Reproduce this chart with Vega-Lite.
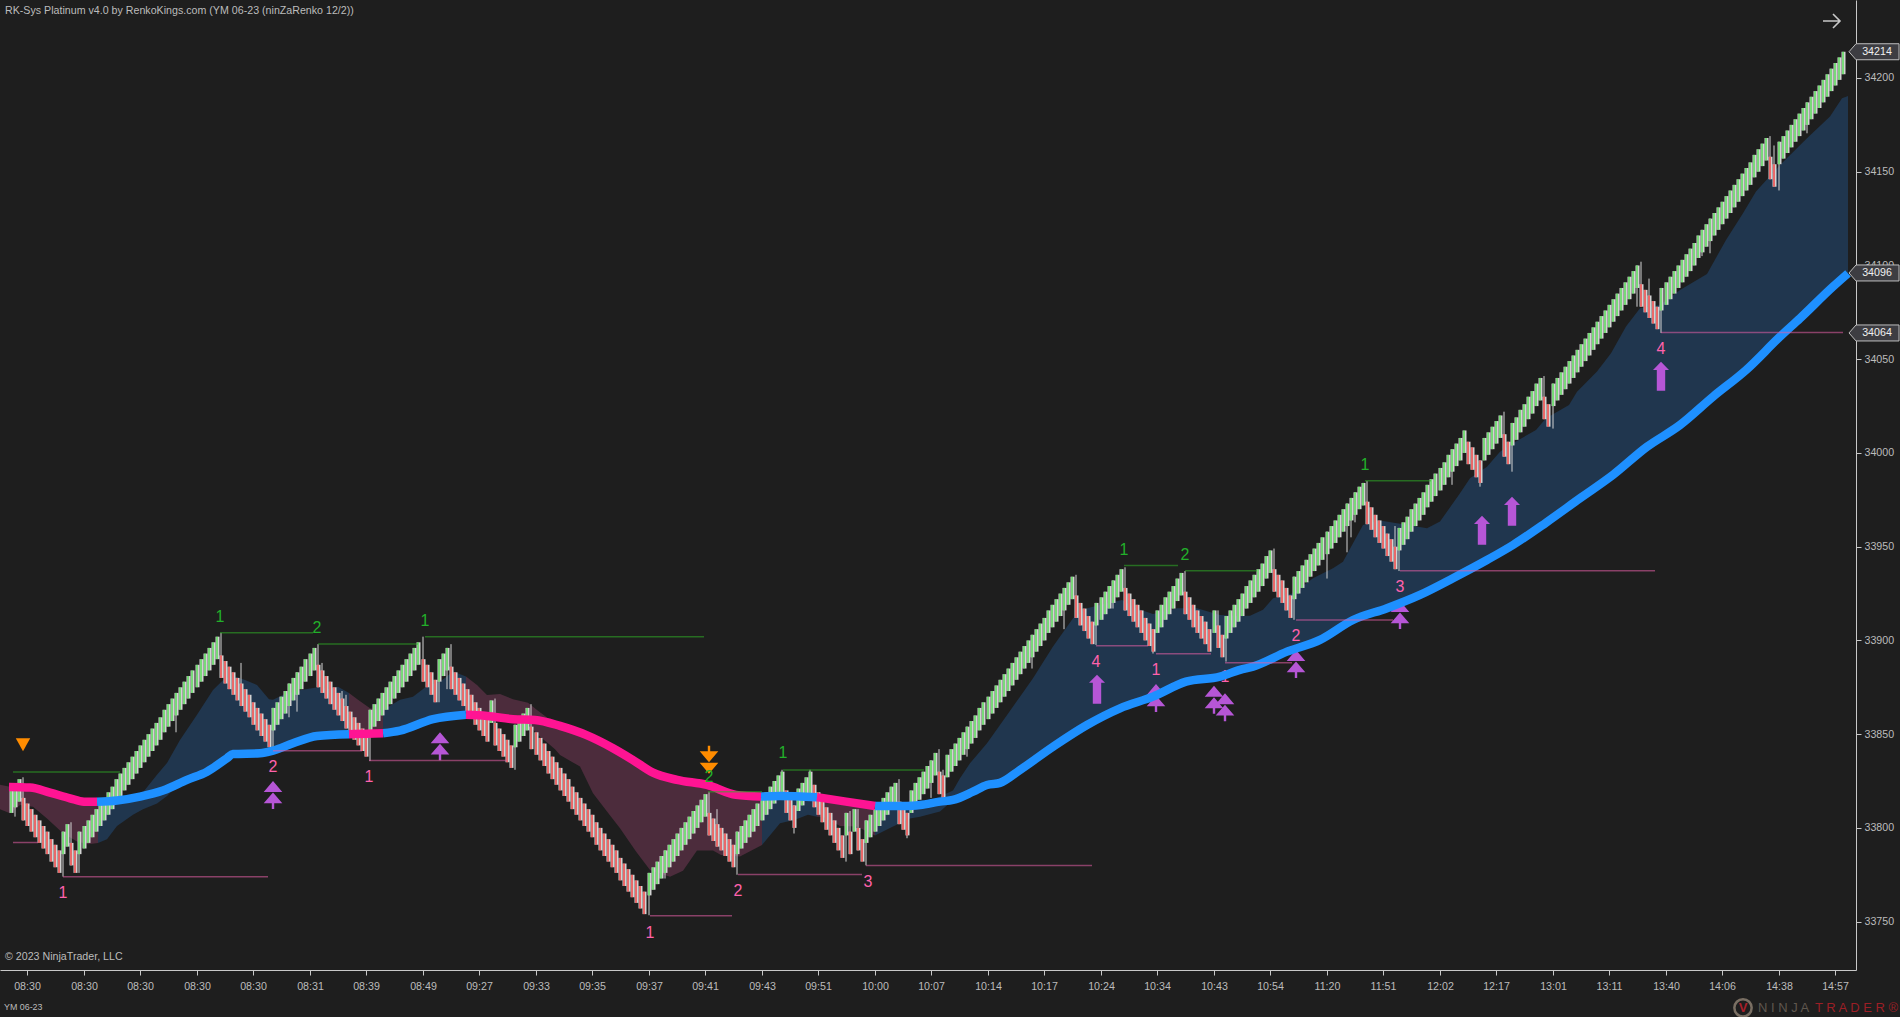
{"$schema":"https://vega.github.io/schema/vega-lite/v6.json","width":1856,"height":970,"autosize":{"type":"none"},"padding":{"left":0,"top":0,"right":44,"bottom":47},"background":"#1e1e1e","config":{"view":{"stroke":null},"text":{"font":"Liberation Sans"}},
"datasets":{
"bars":[{"i":2,"o":33808,"c":33820},{"i":3,"o":33811,"c":33823},{"i":4,"o":33814,"c":33826},{"i":5,"o":33816,"c":33804},{"i":6,"o":33813,"c":33801},{"i":7,"o":33810,"c":33798},{"i":8,"o":33807,"c":33795},{"i":9,"o":33804,"c":33792},{"i":10,"o":33801,"c":33789},{"i":11,"o":33798,"c":33786},{"i":12,"o":33794,"c":33782},{"i":13,"o":33791,"c":33779},{"i":14,"o":33788,"c":33776},{"i":15,"o":33786,"c":33798},{"i":16,"o":33790,"c":33802},{"i":17,"o":33792,"c":33780},{"i":18,"o":33788,"c":33776},
{"i":19,"o":33786,"c":33798},{"i":20,"o":33789,"c":33801},{"i":21,"o":33792,"c":33804},{"i":22,"o":33795,"c":33807},{"i":23,"o":33798,"c":33810},{"i":24,"o":33801,"c":33813},{"i":25,"o":33804,"c":33816},{"i":26,"o":33807,"c":33819},{"i":27,"o":33810,"c":33822},{"i":28,"o":33814,"c":33826},{"i":29,"o":33817,"c":33829},{"i":30,"o":33820,"c":33832},{"i":31,"o":33823,"c":33835},{"i":32,"o":33826,"c":33838},{"i":33,"o":33829,"c":33841},{"i":34,"o":33832,"c":33844},{"i":35,"o":33835,"c":33847},{"i":36,"o":33838,"c":33850},{"i":37,"o":33841,"c":33853},{"i":38,"o":33844,"c":33856},{"i":39,"o":33847,"c":33859},{"i":40,"o":33851,"c":33863},{"i":41,"o":33854,"c":33866},{"i":42,"o":33857,"c":33869},{"i":43,"o":33860,"c":33872},{"i":44,"o":33863,"c":33875},{"i":45,"o":33866,"c":33878},{"i":46,"o":33869,"c":33881},{"i":47,"o":33872,"c":33884},{"i":48,"o":33875,"c":33887},{"i":49,"o":33878,"c":33890},{"i":50,"o":33881,"c":33893},{"i":51,"o":33884,"c":33896},{"i":52,"o":33887,"c":33899},{"i":53,"o":33890,"c":33902},
{"i":54,"o":33892,"c":33880},{"i":55,"o":33889,"c":33877},{"i":56,"o":33886,"c":33874},{"i":57,"o":33883,"c":33871},{"i":58,"o":33880,"c":33868},{"i":59,"o":33877,"c":33865},{"i":60,"o":33874,"c":33862},{"i":61,"o":33871,"c":33859},{"i":62,"o":33867,"c":33855},{"i":63,"o":33864,"c":33852},{"i":64,"o":33861,"c":33849},{"i":65,"o":33858,"c":33846},{"i":66,"o":33855,"c":33843},
{"i":67,"o":33852,"c":33864},{"i":68,"o":33855,"c":33867},{"i":69,"o":33858,"c":33870},{"i":70,"o":33861,"c":33873},{"i":71,"o":33865,"c":33877},{"i":72,"o":33868,"c":33880},{"i":73,"o":33871,"c":33883},{"i":74,"o":33874,"c":33886},{"i":75,"o":33878,"c":33890},{"i":76,"o":33881,"c":33893},{"i":77,"o":33884,"c":33896},
{"i":78,"o":33887,"c":33875},{"i":79,"o":33884,"c":33872},{"i":80,"o":33881,"c":33869},{"i":81,"o":33878,"c":33866},{"i":82,"o":33875,"c":33863},{"i":83,"o":33872,"c":33860},{"i":84,"o":33869,"c":33857},{"i":85,"o":33865,"c":33853},{"i":86,"o":33862,"c":33850},{"i":87,"o":33859,"c":33847},{"i":88,"o":33856,"c":33844},{"i":89,"o":33853,"c":33841},{"i":90,"o":33850,"c":33838},
{"i":91,"o":33851,"c":33863},{"i":92,"o":33854,"c":33866},{"i":93,"o":33857,"c":33869},{"i":94,"o":33860,"c":33872},{"i":95,"o":33863,"c":33875},{"i":96,"o":33866,"c":33878},{"i":97,"o":33869,"c":33881},{"i":98,"o":33872,"c":33884},{"i":99,"o":33875,"c":33887},{"i":100,"o":33878,"c":33890},{"i":101,"o":33881,"c":33893},{"i":102,"o":33884,"c":33896},{"i":103,"o":33887,"c":33899},
{"i":104,"o":33890,"c":33878},{"i":105,"o":33887,"c":33875},{"i":106,"o":33883,"c":33871},{"i":107,"o":33879,"c":33867},{"i":108,"o":33878,"c":33890},{"i":109,"o":33881,"c":33893},{"i":110,"o":33884,"c":33896},
{"i":111,"o":33886,"c":33874},{"i":112,"o":33883,"c":33871},{"i":113,"o":33880,"c":33868},{"i":114,"o":33877,"c":33865},{"i":115,"o":33874,"c":33862},{"i":116,"o":33871,"c":33859},{"i":117,"o":33867,"c":33855},{"i":118,"o":33864,"c":33852},{"i":119,"o":33861,"c":33849},{"i":120,"o":33858,"c":33846},{"i":121,"o":33856,"c":33868},{"i":122,"o":33856,"c":33844},{"i":123,"o":33853,"c":33841},{"i":124,"o":33850,"c":33838},{"i":125,"o":33847,"c":33835},{"i":126,"o":33844,"c":33832},{"i":127,"o":33843,"c":33855},{"i":128,"o":33846,"c":33858},{"i":129,"o":33849,"c":33861},{"i":130,"o":33852,"c":33864},
{"i":131,"o":33854,"c":33842},{"i":132,"o":33851,"c":33839},{"i":133,"o":33848,"c":33836},{"i":134,"o":33845,"c":33833},{"i":135,"o":33841,"c":33829},{"i":136,"o":33838,"c":33826},{"i":137,"o":33835,"c":33823},{"i":138,"o":33832,"c":33820},{"i":139,"o":33829,"c":33817},{"i":140,"o":33826,"c":33814},{"i":141,"o":33822,"c":33810},{"i":142,"o":33819,"c":33807},{"i":143,"o":33816,"c":33804},{"i":144,"o":33813,"c":33801},{"i":145,"o":33810,"c":33798},{"i":146,"o":33807,"c":33795},{"i":147,"o":33803,"c":33791},{"i":148,"o":33800,"c":33788},{"i":149,"o":33797,"c":33785},{"i":150,"o":33794,"c":33782},{"i":151,"o":33791,"c":33779},{"i":152,"o":33788,"c":33776},{"i":153,"o":33784,"c":33772},{"i":154,"o":33781,"c":33769},{"i":155,"o":33778,"c":33766},{"i":156,"o":33775,"c":33763},{"i":157,"o":33772,"c":33760},{"i":158,"o":33769,"c":33757},{"i":159,"o":33766,"c":33754},
{"i":160,"o":33764,"c":33776},{"i":161,"o":33767,"c":33779},{"i":162,"o":33770,"c":33782},{"i":163,"o":33773,"c":33785},{"i":164,"o":33776,"c":33788},{"i":165,"o":33779,"c":33791},{"i":166,"o":33782,"c":33794},{"i":167,"o":33785,"c":33797},{"i":168,"o":33788,"c":33800},{"i":169,"o":33791,"c":33803},{"i":170,"o":33794,"c":33806},{"i":171,"o":33797,"c":33809},{"i":172,"o":33800,"c":33812},{"i":173,"o":33803,"c":33815},{"i":174,"o":33806,"c":33818},
{"i":175,"o":33808,"c":33796},{"i":176,"o":33805,"c":33793},{"i":177,"o":33802,"c":33790},{"i":178,"o":33800,"c":33788},{"i":179,"o":33797,"c":33785},{"i":180,"o":33794,"c":33782},{"i":181,"o":33791,"c":33779},
{"i":182,"o":33786,"c":33798},{"i":183,"o":33789,"c":33801},{"i":184,"o":33792,"c":33804},{"i":185,"o":33795,"c":33807},{"i":186,"o":33798,"c":33810},{"i":187,"o":33801,"c":33813},{"i":188,"o":33804,"c":33816},{"i":189,"o":33807,"c":33819},{"i":190,"o":33810,"c":33822},{"i":191,"o":33813,"c":33825},{"i":192,"o":33816,"c":33828},{"i":193,"o":33818,"c":33830},
{"i":194,"o":33820,"c":33808},{"i":195,"o":33816,"c":33804},{"i":196,"o":33812,"c":33800},{"i":197,"o":33809,"c":33821},{"i":198,"o":33812,"c":33824},{"i":199,"o":33815,"c":33827},{"i":200,"o":33818,"c":33830},
{"i":201,"o":33823,"c":33811},{"i":202,"o":33819,"c":33807},{"i":203,"o":33815,"c":33803},{"i":204,"o":33811,"c":33799},{"i":205,"o":33808,"c":33796},{"i":206,"o":33804,"c":33792},{"i":207,"o":33800,"c":33788},{"i":208,"o":33796,"c":33784},{"i":209,"o":33796,"c":33808},{"i":210,"o":33798,"c":33786},{"i":211,"o":33798,"c":33810},{"i":212,"o":33800,"c":33788},{"i":213,"o":33794,"c":33782},
{"i":214,"o":33792,"c":33804},{"i":215,"o":33795,"c":33807},{"i":216,"o":33798,"c":33810},{"i":217,"o":33801,"c":33813},{"i":218,"o":33804,"c":33816},{"i":219,"o":33807,"c":33819},{"i":220,"o":33810,"c":33822},{"i":221,"o":33812,"c":33824},{"i":222,"o":33814,"c":33802},{"i":223,"o":33811,"c":33799},{"i":224,"o":33808,"c":33796},
{"i":225,"o":33808,"c":33820},{"i":226,"o":33812,"c":33824},{"i":227,"o":33815,"c":33827},{"i":228,"o":33818,"c":33830},{"i":229,"o":33821,"c":33833},{"i":230,"o":33824,"c":33836},{"i":231,"o":33828,"c":33840},{"i":232,"o":33830,"c":33818},{"i":233,"o":33828,"c":33816},
{"i":234,"o":33827,"c":33839},{"i":235,"o":33830,"c":33842},{"i":236,"o":33833,"c":33845},{"i":237,"o":33836,"c":33848},{"i":238,"o":33839,"c":33851},{"i":239,"o":33842,"c":33854},{"i":240,"o":33845,"c":33857},{"i":241,"o":33848,"c":33860},{"i":242,"o":33852,"c":33864},{"i":243,"o":33855,"c":33867},{"i":244,"o":33858,"c":33870},{"i":245,"o":33861,"c":33873},{"i":246,"o":33864,"c":33876},{"i":247,"o":33867,"c":33879},{"i":248,"o":33870,"c":33882},{"i":249,"o":33873,"c":33885},{"i":250,"o":33876,"c":33888},{"i":251,"o":33879,"c":33891},{"i":252,"o":33882,"c":33894},{"i":253,"o":33885,"c":33897},{"i":254,"o":33888,"c":33900},{"i":255,"o":33891,"c":33903},{"i":256,"o":33894,"c":33906},{"i":257,"o":33897,"c":33909},{"i":258,"o":33900,"c":33912},{"i":259,"o":33904,"c":33916},{"i":260,"o":33907,"c":33919},{"i":261,"o":33910,"c":33922},{"i":262,"o":33913,"c":33925},{"i":263,"o":33916,"c":33928},{"i":264,"o":33919,"c":33931},{"i":265,"o":33922,"c":33934},
{"i":266,"o":33924,"c":33912},{"i":267,"o":33920,"c":33908},{"i":268,"o":33917,"c":33905},{"i":269,"o":33913,"c":33901},{"i":270,"o":33910,"c":33898},
{"i":271,"o":33908,"c":33920},{"i":272,"o":33911,"c":33923},{"i":273,"o":33914,"c":33926},{"i":274,"o":33917,"c":33929},{"i":275,"o":33920,"c":33932},{"i":276,"o":33923,"c":33935},{"i":277,"o":33926,"c":33938},
{"i":278,"o":33928,"c":33916},{"i":279,"o":33925,"c":33913},{"i":280,"o":33922,"c":33910},{"i":281,"o":33919,"c":33907},{"i":282,"o":33916,"c":33904},{"i":283,"o":33912,"c":33900},{"i":284,"o":33909,"c":33897},{"i":285,"o":33906,"c":33894},
{"i":286,"o":33904,"c":33916},{"i":287,"o":33907,"c":33919},{"i":288,"o":33911,"c":33923},{"i":289,"o":33914,"c":33926},{"i":290,"o":33917,"c":33929},{"i":291,"o":33921,"c":33933},{"i":292,"o":33924,"c":33936},
{"i":293,"o":33926,"c":33914},{"i":294,"o":33923,"c":33911},{"i":295,"o":33919,"c":33907},{"i":296,"o":33916,"c":33904},{"i":297,"o":33913,"c":33901},{"i":298,"o":33910,"c":33898},{"i":299,"o":33906,"c":33894},{"i":300,"o":33904,"c":33916},{"i":301,"o":33908,"c":33896},{"i":302,"o":33903,"c":33891},
{"i":303,"o":33901,"c":33913},{"i":304,"o":33904,"c":33916},{"i":305,"o":33907,"c":33919},{"i":306,"o":33910,"c":33922},{"i":307,"o":33913,"c":33925},{"i":308,"o":33917,"c":33929},{"i":309,"o":33920,"c":33932},{"i":310,"o":33923,"c":33935},{"i":311,"o":33926,"c":33938},{"i":312,"o":33929,"c":33941},{"i":313,"o":33933,"c":33945},{"i":314,"o":33936,"c":33948},
{"i":315,"o":33938,"c":33926},{"i":316,"o":33935,"c":33923},{"i":317,"o":33932,"c":33920},{"i":318,"o":33928,"c":33916},{"i":319,"o":33924,"c":33912},
{"i":320,"o":33922,"c":33934},{"i":321,"o":33925,"c":33937},{"i":322,"o":33928,"c":33940},{"i":323,"o":33931,"c":33943},{"i":324,"o":33934,"c":33946},{"i":325,"o":33937,"c":33949},{"i":326,"o":33940,"c":33952},{"i":327,"o":33943,"c":33955},{"i":328,"o":33946,"c":33958},{"i":329,"o":33949,"c":33961},{"i":330,"o":33952,"c":33964},{"i":331,"o":33955,"c":33967},{"i":332,"o":33958,"c":33970},{"i":333,"o":33961,"c":33973},{"i":334,"o":33964,"c":33976},{"i":335,"o":33967,"c":33979},{"i":336,"o":33970,"c":33982},{"i":337,"o":33972,"c":33984},
{"i":338,"o":33974,"c":33962},{"i":339,"o":33971,"c":33959},{"i":340,"o":33967,"c":33955},{"i":341,"o":33964,"c":33952},{"i":342,"o":33961,"c":33949},{"i":343,"o":33957,"c":33945},{"i":344,"o":33954,"c":33942},{"i":345,"o":33950,"c":33938},
{"i":346,"o":33948,"c":33960},{"i":347,"o":33951,"c":33963},{"i":348,"o":33954,"c":33966},{"i":349,"o":33958,"c":33970},{"i":350,"o":33961,"c":33973},{"i":351,"o":33964,"c":33976},{"i":352,"o":33967,"c":33979},{"i":353,"o":33971,"c":33983},{"i":354,"o":33974,"c":33986},{"i":355,"o":33977,"c":33989},{"i":356,"o":33980,"c":33992},{"i":357,"o":33983,"c":33995},{"i":358,"o":33987,"c":33999},{"i":359,"o":33990,"c":34002},{"i":360,"o":33993,"c":34005},{"i":361,"o":33996,"c":34008},{"i":362,"o":34000,"c":34012},
{"i":363,"o":34006,"c":33994},{"i":364,"o":34003,"c":33991},{"i":365,"o":33999,"c":33987},{"i":366,"o":33996,"c":33984},
{"i":367,"o":33996,"c":34008},{"i":368,"o":33999,"c":34011},{"i":369,"o":34002,"c":34014},{"i":370,"o":34005,"c":34017},{"i":371,"o":34008,"c":34020},{"i":372,"o":34010,"c":33998},{"i":373,"o":34006,"c":33994},
{"i":374,"o":34004,"c":34016},{"i":375,"o":34007,"c":34019},{"i":376,"o":34011,"c":34023},{"i":377,"o":34014,"c":34026},{"i":378,"o":34018,"c":34030},{"i":379,"o":34021,"c":34033},{"i":380,"o":34025,"c":34037},{"i":381,"o":34028,"c":34040},{"i":382,"o":34030,"c":34018},{"i":383,"o":34026,"c":34014},
{"i":384,"o":34025,"c":34037},{"i":385,"o":34028,"c":34040},{"i":386,"o":34031,"c":34043},{"i":387,"o":34034,"c":34046},{"i":388,"o":34037,"c":34049},{"i":389,"o":34040,"c":34052},{"i":390,"o":34043,"c":34055},{"i":391,"o":34046,"c":34058},{"i":392,"o":34049,"c":34061},{"i":393,"o":34052,"c":34064},{"i":394,"o":34055,"c":34067},{"i":395,"o":34058,"c":34070},{"i":396,"o":34061,"c":34073},{"i":397,"o":34064,"c":34076},{"i":398,"o":34067,"c":34079},{"i":399,"o":34070,"c":34082},{"i":400,"o":34073,"c":34085},{"i":401,"o":34076,"c":34088},{"i":402,"o":34079,"c":34091},{"i":403,"o":34082,"c":34094},{"i":404,"o":34085,"c":34097},{"i":405,"o":34088,"c":34100},
{"i":406,"o":34090,"c":34078},{"i":407,"o":34087,"c":34075},{"i":408,"o":34084,"c":34072},{"i":409,"o":34081,"c":34069},{"i":410,"o":34078,"c":34066},
{"i":411,"o":34076,"c":34088},{"i":412,"o":34079,"c":34091},{"i":413,"o":34082,"c":34094},{"i":414,"o":34085,"c":34097},{"i":415,"o":34088,"c":34100},{"i":416,"o":34091,"c":34103},{"i":417,"o":34094,"c":34106},{"i":418,"o":34097,"c":34109},{"i":419,"o":34100,"c":34112},{"i":420,"o":34104,"c":34116},{"i":421,"o":34107,"c":34119},{"i":422,"o":34110,"c":34122},{"i":423,"o":34113,"c":34125},{"i":424,"o":34116,"c":34128},{"i":425,"o":34119,"c":34131},{"i":426,"o":34122,"c":34134},{"i":427,"o":34125,"c":34137},{"i":428,"o":34128,"c":34140},{"i":429,"o":34131,"c":34143},{"i":430,"o":34134,"c":34146},{"i":431,"o":34137,"c":34149},{"i":432,"o":34140,"c":34152},{"i":433,"o":34143,"c":34155},{"i":434,"o":34147,"c":34159},{"i":435,"o":34150,"c":34162},{"i":436,"o":34153,"c":34165},{"i":437,"o":34156,"c":34168},
{"i":438,"o":34158,"c":34146},{"i":439,"o":34154,"c":34142},
{"i":440,"o":34154,"c":34166},{"i":441,"o":34157,"c":34169},{"i":442,"o":34160,"c":34172},{"i":443,"o":34163,"c":34175},{"i":444,"o":34166,"c":34178},{"i":445,"o":34169,"c":34181},{"i":446,"o":34172,"c":34184},{"i":447,"o":34175,"c":34187},{"i":448,"o":34178,"c":34190},{"i":449,"o":34181,"c":34193},{"i":450,"o":34184,"c":34196},{"i":451,"o":34187,"c":34199},{"i":452,"o":34190,"c":34202},{"i":453,"o":34193,"c":34205},{"i":454,"o":34196,"c":34208},{"i":455,"o":34199,"c":34211},{"i":456,"o":34202,"c":34214}],
"wicks":[{"i":3,"h":33823,"l":33806},{"i":5,"h":33827,"l":33804},{"i":15,"h":33798,"l":33774},{"i":17,"h":33803,"l":33780},{"i":19,"h":33798,"l":33776},{"i":43,"h":33872,"l":33851},{"i":54,"h":33904,"l":33880},{"i":59,"h":33888,"l":33865},{"i":67,"h":33864,"l":33842.6},{"i":71,"h":33877,"l":33859},{"i":73,"h":33883,"l":33862},{"i":78,"h":33898,"l":33875},{"i":79,"h":33888,"l":33872},{"i":84,"h":33873,"l":33860},{"i":85,"h":33871,"l":33857},{"i":91,"h":33863,"l":33835.7},{"i":104,"h":33902,"l":33878},{"i":108,"h":33890,"l":33867},{"i":110,"h":33896,"l":33874},{"i":111,"h":33898,"l":33874},{"i":122,"h":33869,"l":33844},{"i":127,"h":33855,"l":33831},{"i":131,"h":33866,"l":33842},{"i":160,"h":33776,"l":33753.4},{"i":164,"h":33788,"l":33773},{"i":175,"h":33819,"l":33796},{"i":177,"h":33810,"l":33790},{"i":182,"h":33798,"l":33775},{"i":193,"h":33831,"l":33825},{"i":196,"h":33812,"l":33797},{"i":200,"h":33831,"l":33818},{"i":209,"h":33808,"l":33782},{"i":210,"h":33809,"l":33786},{"i":212,"h":33810,"l":33788},{"i":214,"h":33804,"l":33780},{"i":222,"h":33826,"l":33802},{"i":224,"h":33808,"l":33794.5},{"i":230,"h":33836,"l":33816},{"i":232,"h":33842,"l":33818},{"i":233,"h":33831,"l":33816},{"i":239,"h":33854,"l":33838},{"i":255,"h":33903,"l":33885},{"i":263,"h":33928,"l":33906},{"i":266,"h":33935,"l":33912},{"i":271,"h":33920,"l":33897.6},{"i":275,"h":33932,"l":33917},{"i":278,"h":33939,"l":33916},{"i":285,"h":33906,"l":33893},{"i":293,"h":33937,"l":33914},{"i":301,"h":33916,"l":33896},{"i":303,"h":33913,"l":33888.7},{"i":315,"h":33949,"l":33926},{"i":320,"h":33934,"l":33911},{"i":328,"h":33958,"l":33933},{"i":333,"h":33973,"l":33947},{"i":334,"h":33976,"l":33955},{"i":335,"h":33979,"l":33963},{"i":338,"h":33985,"l":33962},{"i":345,"h":33961,"l":33938},{"i":346,"h":33960,"l":33937},{"i":359,"h":34002,"l":33983},{"i":366,"h":33996,"l":33982},{"i":372,"h":34022,"l":33998},{"i":374,"h":34016,"l":33990},{"i":382,"h":34041,"l":34018},{"i":384,"h":34037,"l":34013},{"i":405,"h":34100,"l":34078},{"i":406,"h":34102,"l":34078},{"i":408,"h":34093,"l":34072},{"i":411,"h":34088,"l":34064},{"i":421,"h":34119,"l":34105},{"i":423,"h":34125,"l":34106.5},{"i":438,"h":34169,"l":34146},{"i":439,"h":34164,"l":34142},{"i":440,"h":34166,"l":34140},{"i":447,"h":34187,"l":34170.5}],
"emaPink":[{"s":"A","i":1.5,"p":33821.8},{"s":"A","i":6.7,"p":33821.5},{"s":"A","i":11.7,"p":33818.8},{"s":"A","i":16.6,"p":33815.8},{"s":"A","i":20,"p":33814},{"s":"A","i":23.3,"p":33813.9},{"s":"C","i":85.9,"p":33850},{"s":"C","i":90,"p":33850.2},{"s":"C","i":94.2,"p":33850.5},{"s":"E","i":114.7,"p":33860.3},{"s":"E","i":119.9,"p":33859.7},{"s":"E","i":126.4,"p":33858},{"s":"E","i":131.9,"p":33857.6},{"s":"E","i":138,"p":33854.4},{"s":"E","i":144.6,"p":33849.6},{"s":"E","i":151.3,"p":33842.5},{"s":"E","i":156.2,"p":33836.2},{"s":"E","i":161.2,"p":33829.5},{"s":"E","i":167,"p":33825.6},{"s":"E","i":174.4,"p":33822.9},{"s":"E","i":181.8,"p":33817.6},{"s":"E","i":187.9,"p":33816.7},{"s":"G","i":201.7,"p":33816.4},{"s":"G","i":209,"p":33814},{"s":"G","i":216,"p":33811.7}],
"emaBlue":[{"s":"B","i":23.3,"p":33813.9},{"s":"B","i":28.2,"p":33814.6},{"s":"B","i":34,"p":33816.7},{"s":"B","i":39.8,"p":33819.9},{"s":"B","i":45.6,"p":33825.6},{"s":"B","i":50.5,"p":33830},{"s":"B","i":55.5,"p":33837.2},{"s":"B","i":57,"p":33839.4},{"s":"B","i":63.7,"p":33839.8},{"s":"B","i":67,"p":33841.2},{"s":"B","i":72,"p":33845.1},{"s":"B","i":77.8,"p":33849},{"s":"B","i":85.9,"p":33850},{"s":"D","i":94.2,"p":33850.5},{"s":"D","i":98.4,"p":33851.9},{"s":"D","i":106.7,"p":33858},{"s":"D","i":114.7,"p":33860.3},{"s":"F","i":187.9,"p":33816.7},{"s":"F","i":192.5,"p":33817},{"s":"F","i":201.7,"p":33816.4},{"s":"H","i":216,"p":33811.7},{"s":"H","i":224,"p":33811.7},{"s":"H","i":227.2,"p":33812.2},{"s":"H","i":232.2,"p":33814},{"s":"H","i":235.5,"p":33814.9},{"s":"H","i":240.4,"p":33819.3},{"s":"H","i":243.8,"p":33822.9},{"s":"H","i":247,"p":33824},{"s":"H","i":252,"p":33830.9},{"s":"H","i":260.3,"p":33843.3},{"s":"H","i":268.6,"p":33854.9},{"s":"H","i":276.8,"p":33863.8},{"s":"H","i":285,"p":33870},{"s":"H","i":293.3,"p":33878},{"s":"H","i":301.6,"p":33880.7},{"s":"H","i":306.5,"p":33884.3},{"s":"H","i":309.8,"p":33886},{"s":"H","i":318.1,"p":33894},{"s":"H","i":326.4,"p":33900.3},{"s":"H","i":334.6,"p":33910.9},{"s":"H","i":342.9,"p":33917.2},{"s":"H","i":351.1,"p":33924.3},{"s":"H","i":359.4,"p":33933.2},{"s":"H","i":367.7,"p":33942.9},{"s":"H","i":374.3,"p":33950.9},{"s":"H","i":382.5,"p":33962.8},{"s":"H","i":390.8,"p":33975.8},{"s":"H","i":399,"p":33988.3},{"s":"H","i":407.3,"p":34003.3},{"s":"H","i":415.6,"p":34014.9},{"s":"H","i":423.8,"p":34030},{"s":"H","i":432,"p":34044.2},{"s":"H","i":440.3,"p":34062},{"s":"H","i":445.3,"p":34071.8},{"s":"H","i":453.5,"p":34088.7},{"s":"H","i":457.2,"p":34095.8}],
"cloudPink":[{"s":"A","i":-0.69,"t":33823,"b":33810},{"s":"A","i":1.8,"t":33822,"b":33807.8},{"s":"A","i":4.3,"t":33822,"b":33812.2},{"s":"A","i":7.5,"t":33821.5,"b":33811.3},{"s":"A","i":10.9,"t":33819.5,"b":33805},{"s":"A","i":15,"t":33816.5,"b":33797.1},{"s":"A","i":18.3,"t":33815,"b":33792.7},{"s":"A","i":21.1,"t":33814,"b":33791.3},{"s":"A","i":23.5,"t":33814,"b":33792},{"s":"C","i":85.9,"t":33872,"b":33850},{"s":"C","i":88,"t":33868.3,"b":33850},{"s":"C","i":91,"t":33863.8,"b":33850.2},{"s":"C","i":94.2,"t":33862.9,"b":33850.5},{"s":"E","i":114.7,"t":33880.7,"b":33860.3},{"s":"E","i":117.4,"t":33876.2,"b":33860},{"s":"E","i":120,"t":33870.9,"b":33859.7},{"s":"E","i":123.2,"t":33871.4,"b":33859},{"s":"E","i":126.5,"t":33868.6,"b":33858},{"s":"E","i":130.2,"t":33866.8,"b":33856},{"s":"E","i":132.3,"t":33862.9,"b":33850},{"s":"E","i":135.2,"t":33858.5,"b":33845.2},{"s":"E","i":136.8,"t":33855.5,"b":33842},{"s":"E","i":138,"t":33854.4,"b":33838.9},{"s":"E","i":143,"t":33851,"b":33832.7},{"s":"E","i":146.3,"t":33848.5,"b":33818.5},{"s":"E","i":149.6,"t":33846,"b":33808.7},{"s":"E","i":152.9,"t":33841.5,"b":33799.8},{"s":"E","i":157,"t":33836,"b":33787.4},{"s":"E","i":160.4,"t":33831,"b":33777.6},{"s":"E","i":165.3,"t":33827,"b":33774},{"s":"E","i":168.6,"t":33824.5,"b":33777.2},{"s":"E","i":171.9,"t":33823.5,"b":33787.9},{"s":"E","i":176,"t":33822,"b":33787.9},{"s":"E","i":178,"t":33820,"b":33785.6},{"s":"E","i":182.6,"t":33817.4,"b":33784.7},{"s":"E","i":188,"t":33816.7,"b":33790.9},{"s":"G","i":201.7,"t":33816.4,"b":33806},{"s":"G","i":203.3,"t":33815.8,"b":33806},{"s":"G","i":207.4,"t":33814.6,"b":33801},{"s":"G","i":211.6,"t":33813.4,"b":33800.7},{"s":"G","i":216,"t":33811.7,"b":33796}],
"cloudBlue":[{"s":"B","i":23.5,"t":33814,"b":33792},{"s":"B","i":25.7,"t":33814.3,"b":33794},{"s":"B","i":28.2,"t":33814.6,"b":33801},{"s":"B","i":32.3,"t":33816,"b":33807},{"s":"B","i":34.8,"t":33819,"b":33810},{"s":"B","i":38.1,"t":33828.3,"b":33813},{"s":"B","i":40.6,"t":33834.6,"b":33817},{"s":"B","i":44,"t":33846.9,"b":33824},{"s":"B","i":48,"t":33860.3,"b":33829},{"s":"B","i":52,"t":33873.6,"b":33834},{"s":"B","i":55,"t":33879.8,"b":33837},{"s":"B","i":57,"t":33881,"b":33839},{"s":"B","i":60,"t":33878.9,"b":33839.6},{"s":"B","i":63,"t":33876.2,"b":33840},{"s":"B","i":66,"t":33868.6,"b":33841},{"s":"B","i":67,"t":33868.3,"b":33841.2},{"s":"B","i":70,"t":33871.4,"b":33843.5},{"s":"B","i":74,"t":33873.6,"b":33846.5},{"s":"B","i":78,"t":33875,"b":33849},{"s":"B","i":81,"t":33874,"b":33849.5},{"s":"B","i":83,"t":33875.3,"b":33850},{"s":"B","i":85.9,"t":33872,"b":33850},{"s":"D","i":94.2,"t":33862.9,"b":33850.5},{"s":"D","i":98.4,"t":33868.3,"b":33851.9},{"s":"D","i":101.7,"t":33870,"b":33854},{"s":"D","i":105,"t":33875.7,"b":33857},{"s":"D","i":108.3,"t":33878,"b":33858.5},{"s":"D","i":111.6,"t":33883.4,"b":33859.5},{"s":"D","i":114.7,"t":33880.7,"b":33860.3},{"s":"F","i":188,"t":33816.7,"b":33790.9},{"s":"F","i":192.6,"t":33817,"b":33802.5},{"s":"F","i":196.3,"t":33817,"b":33804.3},{"s":"F","i":199.5,"t":33816.6,"b":33807},{"s":"F","i":201.7,"t":33816.4,"b":33806},{"s":"H","i":216,"t":33811.7,"b":33796},{"s":"H","i":220.6,"t":33811.7,"b":33800.7},{"s":"H","i":224.8,"t":33812,"b":33805},{"s":"H","i":227.2,"t":33812.2,"b":33806},{"s":"H","i":232.2,"t":33816.7,"b":33808.7},{"s":"H","i":235.5,"t":33820,"b":33814.9},{"s":"H","i":237.2,"t":33826.5,"b":33816.5},{"s":"H","i":239.6,"t":33834.5,"b":33818},{"s":"H","i":243.8,"t":33845.2,"b":33822.9},{"s":"H","i":248.7,"t":33859.4,"b":33826},{"s":"H","i":252,"t":33870,"b":33830.9},{"s":"H","i":255.3,"t":33879.8,"b":33836},{"s":"H","i":260.3,"t":33896.7,"b":33843.3},{"s":"H","i":265.3,"t":33911.8,"b":33850},{"s":"H","i":268.6,"t":33917.1,"b":33854.9},{"s":"H","i":273.5,"t":33919.8,"b":33860},{"s":"H","i":277.2,"t":33921.6,"b":33864},{"s":"H","i":280.9,"t":33917.2,"b":33867},{"s":"H","i":285,"t":33914.1,"b":33870},{"s":"H","i":290.9,"t":33917.2,"b":33875.5},{"s":"H","i":295.8,"t":33917.2,"b":33879},{"s":"H","i":301.6,"t":33913.6,"b":33880.7},{"s":"H","i":306.5,"t":33913,"b":33884.3},{"s":"H","i":309,"t":33913.2,"b":33885.5},{"s":"H","i":312.3,"t":33916.3,"b":33888.5},{"s":"H","i":314.8,"t":33922.5,"b":33891},{"s":"H","i":319.7,"t":33925.2,"b":33895},{"s":"H","i":324.7,"t":33933.2,"b":33899},{"s":"H","i":329.7,"t":33938.5,"b":33904.5},{"s":"H","i":332.1,"t":33942,"b":33908},{"s":"H","i":334.6,"t":33951.8,"b":33910.9},{"s":"H","i":337.1,"t":33961.6,"b":33913},{"s":"H","i":341.2,"t":33963.9,"b":33916},{"s":"H","i":346.2,"t":33962.2,"b":33920},{"s":"H","i":352.8,"t":33959.8,"b":33926},{"s":"H","i":356.1,"t":33963.4,"b":33930},{"s":"H","i":361,"t":33978.5,"b":33935},{"s":"H","i":363.5,"t":33986.5,"b":33938},{"s":"H","i":367.7,"t":33992.7,"b":33942.9},{"s":"H","i":371,"t":34000.7,"b":33947},{"s":"H","i":374.3,"t":34005.2,"b":33950.9},{"s":"H","i":380,"t":34012.3,"b":33959.5},{"s":"H","i":382.5,"t":34018.5,"b":33962.8},{"s":"H","i":388,"t":34025.6,"b":33971.5},{"s":"H","i":390,"t":34032.7,"b":33974.5},{"s":"H","i":395,"t":34043.4,"b":33982},{"s":"H","i":398.6,"t":34053.2,"b":33987.7},{"s":"H","i":402.3,"t":34067.4,"b":33994},{"s":"H","i":405.6,"t":34077.2,"b":34000},{"s":"H","i":410.6,"t":34078.9,"b":34008},{"s":"H","i":415.6,"t":34086.9,"b":34014.9},{"s":"H","i":422.2,"t":34095.5,"b":34027},{"s":"H","i":423.8,"t":34101.2,"b":34030},{"s":"H","i":427.1,"t":34113.6,"b":34035.5},{"s":"H","i":431.2,"t":34127.9,"b":34042.5},{"s":"H","i":434.5,"t":34139.4,"b":34049},{"s":"H","i":440.3,"t":34153.6,"b":34062},{"s":"H","i":447,"t":34167.8,"b":34075},{"s":"H","i":452.8,"t":34179.4,"b":34087},{"s":"H","i":455.7,"t":34189.2,"b":34093},{"s":"H","i":457.1,"t":34190.4,"b":34095.8}],
"levelsGreen":[{"i":2.5,"j":29,"p":33829.8},{"i":53.8,"j":76.9,"p":33904.1},{"i":78.2,"j":102.9,"p":33898.1},{"i":104.6,"j":173.7,"p":33902},{"i":174.8,"j":188,"p":33819.3},{"i":193.3,"j":228.3,"p":33830.9},{"i":277.8,"j":291.2,"p":33939.9},{"i":292.9,"j":310.7,"p":33937.2},{"i":337.5,"j":354,"p":33985.2}],
"levelsPink":[{"i":2.5,"j":8.7,"p":33792.2},{"i":14.8,"j":65.6,"p":33774},{"i":67,"j":88.9,"p":33841.2},{"i":90.7,"j":124.9,"p":33835.9},{"i":160.4,"j":180.8,"p":33753.2},{"i":182.2,"j":213,"p":33775.1},{"i":214,"j":269.9,"p":33779.9},{"i":271,"j":283.8,"p":33897.2},{"i":285.7,"j":299.4,"p":33892.9},{"i":302.8,"j":319.4,"p":33888.1},{"i":320.4,"j":344.5,"p":33910.9},{"i":346.2,"j":409.4,"p":33937.2},{"i":410.9,"j":456,"p":34064.2}],
"textGreen":[{"i":53.8,"p":33912.4,"t":"1"},{"i":77.9,"p":33906.5,"t":"2"},{"i":104.6,"p":33910.6,"t":"1"},{"i":174.9,"p":33827.4,"t":"2"},{"i":193.2,"p":33839.8,"t":"1"},{"i":277.8,"p":33948.3,"t":"1"},{"i":292.9,"p":33945.6,"t":"2"},{"i":337.5,"p":33993.6,"t":"1"}],
"textPink":[{"i":14.8,"p":33765.2,"t":"1"},{"i":66.9,"p":33832.4,"t":"2"},{"i":90.7,"p":33827,"t":"1"},{"i":160.4,"p":33744.1,"t":"1"},{"i":182.1,"p":33766.4,"t":"2"},{"i":214.4,"p":33771,"t":"3"},{"i":271,"p":33888.7,"t":"4"},{"i":285.7,"p":33884.3,"t":"1"},{"i":302.8,"p":33880.5,"t":"1"},{"i":320.4,"p":33902.4,"t":"2"},{"i":346.2,"p":33928.4,"t":"3"},{"i":410.8,"p":34055.5,"t":"4"}],
"arrowsDouble":[{"i":67,"p":33817.6},{"i":108.3,"p":33843.6},{"i":285.7,"p":33869.3},{"i":300,"p":33868.3},{"i":302.8,"p":33864.4},{"i":320.4,"p":33887.4},{"i":346.2,"p":33913.6}],
"arrowsSingle":[{"i":271.1,"p":33874},{"i":366.5,"p":33958.8},{"i":374,"p":33968.9},{"i":410.9,"p":34040.9}],
"orangeSingle":[{"i":5.1,"p":33844.3}],
"orangeDouble":[{"i":175,"p":33836.4}],
"arrowGlyph":[{"i":453.3,"p":34230.4}],
"flags":[{"i":463.6,"p":34214,"t":"34214"},{"i":463.6,"p":34096,"t":"34096"},{"i":463.6,"p":34064,"t":"34064"}],
"captions":[{"i":0.55,"p":34235.6,"t":"RK-Sys Platinum v4.0 by RenkoKings.com (YM 06-23 (ninZaRenko 12/2))"},{"i":0.55,"p":33731.2,"t":"© 2023 NinjaTrader, LLC"}],
"smallCaption":[{"i":0.3,"p":33704.5,"t":"YM 06-23"}],
"logoGray":[{"i":434.9,"p":33704,"t":"N I N J A"}],
"logoRed":[{"i":449,"p":33704,"t":"T R A D E R ®"}],
"logoMark":[{"i":431.2,"p":33704,"t":"V"}]
},
"encoding":{
"x":{"field":"i","type":"quantitative","scale":{"domain":[-0.694,459.2],"nice":false,"zero":false,"round":true},"axis":{"title":null,"grid":false,"orient":"bottom","values":[6,20,34,48,62,76,90,104,118,132,146,160,174,188,202,216,230,244,258,272,286,300,314,328,342,356,370,384,398,412,426,440,454],"labelExpr":"['08:30','08:30','08:30','08:30','08:30','08:31','08:39','08:49','09:27','09:33','09:35','09:37','09:41','09:43','09:51','10:00','10:07','10:14','10:17','10:24','10:34','10:43','10:54','11:20','11:51','12:02','12:17','13:01','13:11','13:40','14:06','14:38','14:57'][(datum.value-6)/14]","labelColor":"#bcbcbc","labelFont":"Liberation Sans","labelFontSize":10.67,"labelOverlap":false,"labelFlush":false,"labelPadding":6,"tickColor":"#c8c8c8","tickSize":5,"domainColor":"#c8c8c8"}},
"y":{"field":"p","type":"quantitative","scale":{"domain":[33724.2,34241.6],"nice":false,"zero":false},"axis":{"title":null,"grid":false,"orient":"right","values":[33750,33800,33850,33900,33950,34000,34050,34100,34150,34200],"format":"d","labelColor":"#bcbcbc","labelFont":"Liberation Sans","labelFontSize":10.67,"labelOverlap":false,"labelFlush":false,"labelPadding":3,"tickColor":"#c8c8c8","tickSize":5,"domainColor":"#c8c8c8"}}
},
"layer":[
{"data":{"name":"cloudPink"},"mark":{"type":"area","orient":"vertical","color":"#4c2c3c"},"encoding":{"y":{"field":"t","type":"quantitative"},"y2":{"field":"b"},"detail":{"field":"s"}}},
{"data":{"name":"cloudBlue"},"mark":{"type":"area","orient":"vertical","color":"#20364e"},"encoding":{"y":{"field":"t","type":"quantitative"},"y2":{"field":"b"},"detail":{"field":"s"}}},
{"data":{"name":"wicks"},"mark":{"type":"rule","color":"#d3d3d3","strokeWidth":1},"encoding":{"y":{"field":"h","type":"quantitative"},"y2":{"field":"l"}}},
{"data":{"name":"bars"},"mark":{"type":"rule","color":"#d3d3d3","strokeWidth":4,"xOffset":0.5},"encoding":{"y":{"field":"o","type":"quantitative"},"y2":{"field":"c"}}},
{"data":{"name":"bars"},"mark":{"type":"rule","strokeWidth":1},"encoding":{"y":{"field":"o","type":"quantitative"},"y2":{"field":"c"},"color":{"condition":{"test":"datum.c>datum.o","value":"#1fe01f"},"value":"#ff0000"}}},
{"data":{"name":"arrowsDouble"},"mark":{"type":"point","shape":"M0,-14L9.3,-3L-9.3,-3Z M0,-2.5L9.3,8.3L-9.3,8.3Z M-1.2,8.3H1.2V14H-1.2Z","filled":true,"size":4,"fill":"#b656d6","opacity":1}},
{"data":{"name":"arrowsSingle"},"mark":{"type":"point","shape":"M0,-14.5L8,-6.3H4.2V14.5H-4.2V-6.3H-8Z","filled":true,"size":4,"fill":"#b656d6","opacity":1}},
{"data":{"name":"textPink"},"mark":{"type":"text","color":"#ff62ac","fontSize":16,"font":"Liberation Sans","align":"center","baseline":"middle"},"encoding":{"text":{"field":"t"}}},
{"data":{"name":"emaBlue"},"mark":{"type":"line","color":"#1e90ff","strokeWidth":8.5,"strokeCap":"butt","interpolate":"monotone"},"encoding":{"detail":{"field":"s"}}},
{"data":{"name":"emaPink"},"mark":{"type":"line","color":"#ff1493","strokeWidth":8.5,"strokeCap":"butt","interpolate":"monotone"},"encoding":{"detail":{"field":"s"}}},
{"data":{"name":"levelsGreen"},"mark":{"type":"rule","color":"#30af27","opacity":0.55,"strokeWidth":1.5},"encoding":{"x2":{"field":"j"}}},
{"data":{"name":"levelsPink"},"mark":{"type":"rule","color":"#e45fa6","opacity":0.55,"strokeWidth":1.5},"encoding":{"x2":{"field":"j"}}},
{"data":{"name":"orangeSingle"},"mark":{"type":"point","shape":"M-7.2,-6.5H7.2L0,6.5Z","filled":true,"size":4,"fill":"#ff8c00","opacity":1}},
{"data":{"name":"orangeDouble"},"mark":{"type":"point","shape":"M-1.2,-14H1.2V-8.3H-1.2Z M-9.3,-8.3H9.3L0,2.5Z M-9.3,3H9.3L0,14Z","filled":true,"size":4,"fill":"#ff8c00","opacity":1}},
{"data":{"name":"textGreen"},"mark":{"type":"text","color":"#22b02a","fontSize":16,"font":"Liberation Sans","align":"center","baseline":"middle"},"encoding":{"text":{"field":"t"}}},
{"data":{"name":"arrowGlyph"},"mark":{"type":"point","shape":"M-9,0H8 M1,-7L8,0L1,7","filled":false,"fill":null,"size":4,"stroke":"#c8c8c8","strokeWidth":1.6,"opacity":1}},
{"data":{"name":"flags"},"mark":{"type":"point","shape":"M-25,0L-18,-8L25,-8L25,8L-18,8Z","filled":true,"size":4,"fill":"#3d3d42","stroke":"#bdbdbd","strokeWidth":1,"opacity":1}},
{"data":{"name":"flags"},"mark":{"type":"text","color":"#f0f0f0","fontSize":10.67,"font":"Liberation Sans","align":"center","baseline":"middle","dx":3},"encoding":{"text":{"field":"t"}}},
{"data":{"name":"captions"},"mark":{"type":"text","color":"#bcbcbc","fontSize":10.67,"font":"Liberation Sans","align":"left","baseline":"middle"},"encoding":{"text":{"field":"t"}}},
{"data":{"name":"smallCaption"},"mark":{"type":"text","color":"#bcbcbc","fontSize":8.9,"font":"Liberation Sans","align":"left","baseline":"middle"},"encoding":{"text":{"field":"t"}}},
{"data":{"name":"logoMark"},"mark":{"type":"point","shape":"circle","filled":false,"size":300,"stroke":"#7a6f63","strokeWidth":2.5,"opacity":1}},
{"data":{"name":"logoMark"},"mark":{"type":"text","color":"#a8202a","fontSize":13,"fontWeight":"bold","font":"Liberation Sans","align":"center","baseline":"middle"},"encoding":{"text":{"field":"t"}}},
{"data":{"name":"logoGray"},"mark":{"type":"text","color":"#5f574e","fontSize":13,"font":"Liberation Sans","align":"left","baseline":"middle"},"encoding":{"text":{"field":"t"}}},
{"data":{"name":"logoRed"},"mark":{"type":"text","color":"#9c1f26","fontSize":13,"font":"Liberation Sans","align":"left","baseline":"middle"},"encoding":{"text":{"field":"t"}}}
]}
